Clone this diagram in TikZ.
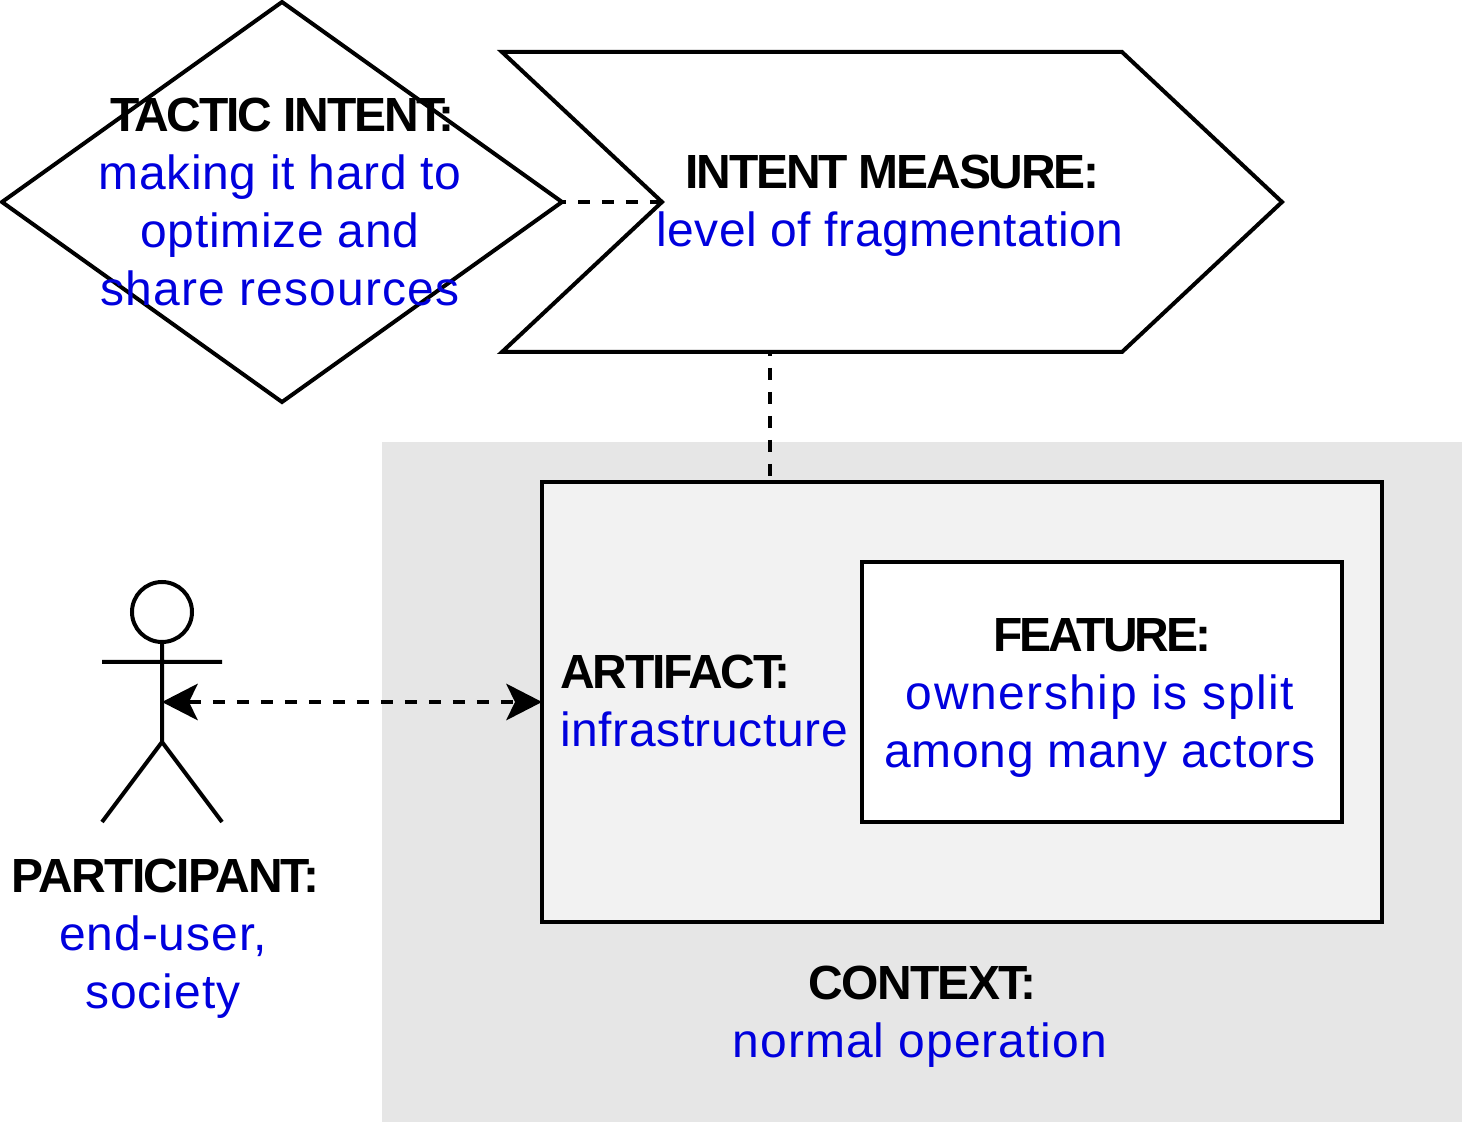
\documentclass[tikz,border=0pt]{standalone}
\usepackage{fontspec}
\setmainfont{Liberation Sans}
\usetikzlibrary{arrows.meta,shapes.geometric}
\definecolor{ctxgray}{HTML}{E6E6E6}
\definecolor{artgray}{HTML}{F2F2F2}
\definecolor{txtblue}{HTML}{0000DD}
\tikzset{
  x=0.02cm,y=-0.02cm,
  shapeline/.style={draw=black,line width=0.08cm,line join=miter},
  boxnode/.style={shapeline,inner sep=0pt,outer sep=0pt,anchor=north west},
  conn/.style={draw=black,line width=0.08cm,dash pattern=on 0.24cm off 0.24cm},
  connph/.style={conn,dash phase=0.16cm},
  lab/.style={inner sep=0pt,align=center,font=\fontsize{27.3pt}{33pt}\selectfont},
  labl/.style={lab,align=left},
  bothtips/.style={{Stealth[length=0.72cm,width=0.74cm,inset=0.18cm,line width=0pt]}-{Stealth[length=0.72cm,width=0.74cm,inset=0.18cm,line width=0pt]}}
}
\newcommand{\hdl}[2][-4.5]{{\bfseries\addfontfeature{LetterSpace=#1}\textcolor{black}{#2}}}
\newcommand{\hdt}[2][-4.5]{\hspace*{0.1cm}\hdl[#1]{#2}}
\newcommand{\blt}[2][0.9]{{\addfontfeature{LetterSpace=#1}\textcolor{txtblue}{#2}}}
\begin{document}
\begin{tikzpicture}
\useasboundingbox (0,0) rectangle (1464,1124);
\fill[ctxgray] (382,442) rectangle (1462,1122);
\node[boxnode,fill=artgray,minimum width=16.8cm,minimum height=8.8cm] (artifact) at (542,482) {};
\node[boxnode,fill=white,minimum width=9.6cm,minimum height=5.2cm] (feature) at (862,562) {};
\path[shapeline] (2,202) -- (282,2) -- (562,202) -- (282,402) -- cycle;
\coordinate (tacticE) at (562,202);
\path[shapeline] (502,52) -- (1122,52) -- (1282,202) -- (1122,352) -- (502,352) -- (662,202) -- cycle;
\coordinate (measureW) at (662,202);
\coordinate (measureS) at (770,352);
\coordinate (artifactN) at (770,482);
\draw[connph] (tacticE) -- (measureW);
\draw[connph] (measureS) -- (artifactN);
% actor
\draw[shapeline] (162,612) circle (30);
\coordinate (actorC) at (162,702);
\coordinate (artifactW) at (542,702);
\draw[shapeline,line cap=butt] (162,642) -- (162,742) (102,662) -- (222,662) (102,822) -- (162,742) -- (222,822);
\draw[conn,bothtips] (actorC) -- (artifactW);
\node[lab] (tactic) at (280,202) {\hdt{TACTIC INTENT:}\\\blt[1.3]{making it hard to}\\\blt[1.4]{optimize and}\\\blt[2.3]{share resources}};
\node[lab] (measure) at (890,206) {\hdt{INTENT MEASURE:}\\\blt{level of fragmentation}};
\node[labl,anchor=west] (arttext) at (560,701) {\hdl{ARTIFACT:}\\\blt[1.2]{infrastructure}};
\node[lab] (feattext) at (1100,698) {\hdt[-6.3]{FEATURE:}\\\blt[3.2]{ownership is split}\\\blt[1.5]{among many actors}};
\node[lab] (parttext) at (163,939) {\hdt[-3.5]{PARTICIPANT:}\\\blt[2]{end-user,}\\\blt[2.1]{society}};
\node[lab] (ctxtext) at (920,1017) {\hdt[-3.5]{CONTEXT:}\\\blt[2.1]{normal operation}};
\end{tikzpicture}
\end{document}
